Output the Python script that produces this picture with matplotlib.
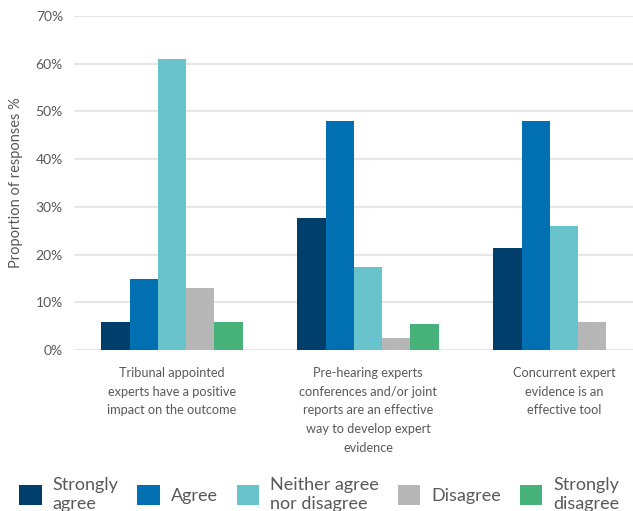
import matplotlib
matplotlib.use("Agg")
import matplotlib.pyplot as plt
from matplotlib.patches import Patch
from matplotlib.ticker import FuncFormatter
import numpy as np

plt.rcParams['font.family'] = ['Lato', 'DejaVu Sans']

categories = [
    "Tribunal appointed\nexperts have a positive\nimpact on the outcome",
    "Pre-hearing experts\nconferences and/or joint\nreports are an effective\nway to develop expert\nevidence",
    "Concurrent expert\nevidence is an\neffective tool",
]
series_names = ["Strongly\nagree", "Agree", "Neither agree\nnor disagree", "Disagree", "Strongly\ndisagree"]
strongly_agree = [5.9, 27.7, 21.4]
agree = [14.9, 48.0, 48.0]
neither = [61.0, 17.4, 26.0]
disagree = [13.0, 2.5, 5.9]
strongly_disagree = [5.9, 5.5, 0.0]
y_ticks = [0, 10, 20, 30, 40, 50, 60, 70]

colors = ["#003E6B", "#0070B2", "#68C3CD", "#B5B6B5", "#48B27B"]
text_grey = "#595959"

fig = plt.figure(figsize=(6.33, 5.11), dpi=100)
ax = fig.add_axes([0.117, 0.315, 0.883, 0.6536])

series = [strongly_agree, agree, neither, disagree, strongly_disagree]
x = np.arange(len(categories))
width = 0.144
for i, (vals, c) in enumerate(zip(series, colors)):
    offs = (i - 2) * width
    ax.bar(x + offs, vals, width=width, color=c, zorder=3, linewidth=0)

ax.set_ylim(0, 70)
ax.set_xlim(-0.5, 2.352)
ax.set_yticks(y_ticks)
ax.yaxis.set_major_formatter(FuncFormatter(lambda v, p: f"{int(v)}%"))
ax.grid(axis='y', color="#E6E6E6", linewidth=1.6, zorder=0)
ax.set_axisbelow(True)
for s in ax.spines.values():
    s.set_visible(False)
ax.tick_params(axis='y', length=0, pad=8, labelsize=10, labelcolor=text_grey)
ax.set_xticks(x)
ax.set_xticklabels(categories, fontsize=9.2, color=text_grey, linespacing=1.68, va='top')
ax.tick_params(axis='x', length=0, pad=12)
ax.set_ylabel("Proportion of responses %", fontsize=10.5, color=text_grey, labelpad=9)

handles = [Patch(facecolor=c, edgecolor='none') for c in colors]
fig.legend(handles, series_names, loc='upper left', bbox_to_anchor=(0.03, 0.066),
           ncol=5, frameon=False, fontsize=13, labelcolor=text_grey,
           handlelength=1.25, handleheight=1.25, handletextpad=0.6,
           columnspacing=1.05, borderaxespad=0, borderpad=0)

fig.savefig("out.png", dpi=100)
